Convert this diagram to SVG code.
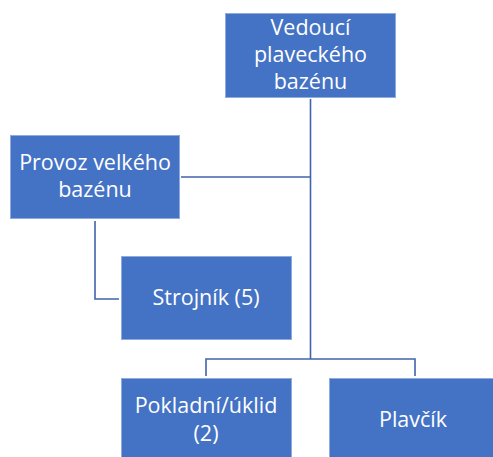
<svg xmlns="http://www.w3.org/2000/svg" width="493" height="457" viewBox="0 0 493 457">
<style>
.box{fill:#4472C4;stroke:#8FAADC;stroke-width:1}
.t{fill:#fff;font-family:"Open Sans","Liberation Sans",sans-serif;font-size:21.5px;text-anchor:middle}
.c{fill:none;stroke:#4163AB;stroke-width:1.6}
</style>
<rect width="493" height="457" fill="#fff"/>
<g id="connectors">
<path class="c" d="M310.5 99V359"/>
<path class="c" d="M181 177H310.5"/>
<path class="c" d="M95 221V299H119"/>
<path class="c" d="M206 376V359H415V376"/>
</g>
<g id="vedouci">
<rect class="box" x="225.5" y="13.5" width="170" height="84"/>
<text class="t" x="310.5" y="35">Vedoucí</text>
<text class="t" x="310.5" y="62">plaveckého</text>
<text class="t" x="310.5" y="89">bazénu</text>
</g>
<g id="provoz">
<rect class="box" x="10.5" y="135.5" width="169" height="83"/>
<text class="t" x="95" y="170">Provoz velkého</text>
<text class="t" x="95" y="197">bazénu</text>
</g>
<g id="strojnik">
<rect class="box" x="121.5" y="256.5" width="170" height="83"/>
<text class="t" x="206" y="305">Strojník (5)</text>
</g>
<g id="pokladni">
<rect class="box" x="121.5" y="378.5" width="170" height="84"/>
<text class="t" x="206" y="413">Pokladní/úklid</text>
<text class="t" x="206" y="441">(2)</text>
</g>
<g id="plavcik">
<rect class="box" x="329.5" y="378.5" width="170" height="84"/>
<text class="t" x="413" y="427">Plavčík</text>
</g>
</svg>
